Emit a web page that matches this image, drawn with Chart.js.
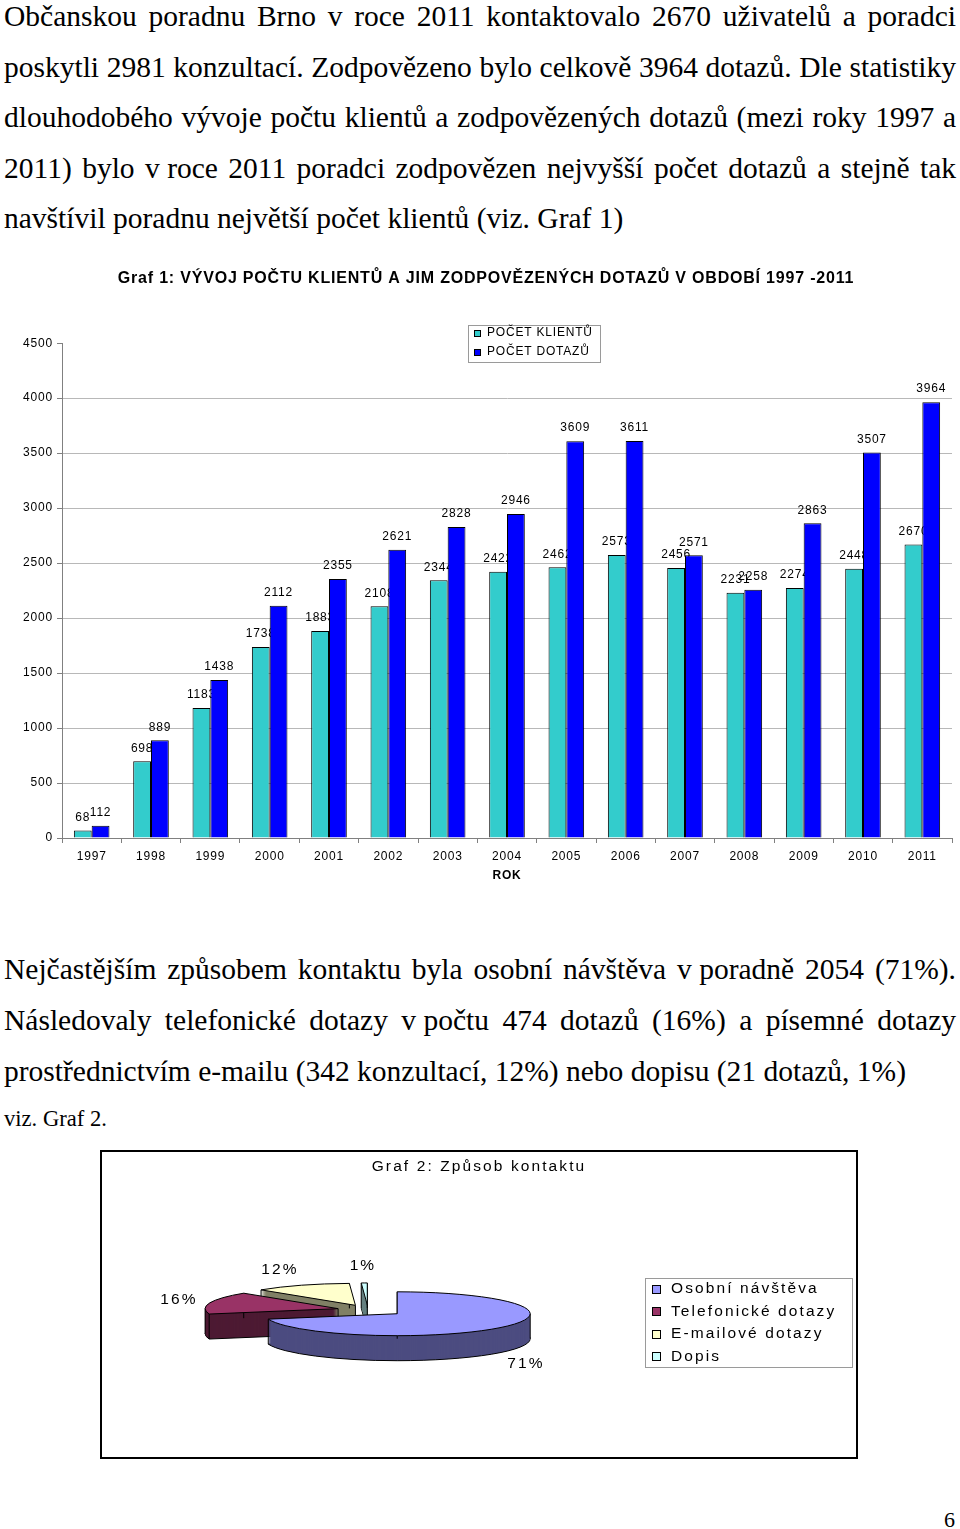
<!DOCTYPE html>
<html lang="cs">
<head>
<meta charset="utf-8">
<title>Občanská poradna Brno 2011</title>
<script src="https://cdn.jsdelivr.net/npm/chart.js@4.4.1/dist/chart.umd.min.js"></script>
<style>
    html, body { margin: 0; padding: 0; background: #fff; }
    #stranka { position: relative; width: 960px; height: 1529px; overflow: hidden; }
    .radek { position: absolute; left: 4px; white-space: nowrap; color: #000;
             font: 29.5px/1 'Liberation Serif', 'Times New Roman', serif; }
    .nz { word-spacing: 0; }
    #graf1 { position: absolute; left: 0; top: 255px; }
    #ramecek2 { position: absolute; left: 100px; top: 1150px; width: 758px; height: 309px;
                border: 2px solid #000; box-sizing: border-box; }
    #graf2 { display: block; }
</style>
</head>
<body>
<div id="stranka">
    <div class="radek j" style="top:2.3px">Občanskou poradnu Brno v roce 2011 kontaktovalo 2670 uživatelů a poradci</div>
    <div class="radek j" style="top:52.8px">poskytli 2981 konzultací. Zodpovězeno bylo celkově 3964 dotazů. Dle statistiky</div>
    <div class="radek j" style="top:103.3px">dlouhodobého vývoje počtu klientů a zodpovězených dotazů (mezi roky 1997 a</div>
    <div class="radek j" style="top:153.8px">2011) bylo <span class="nz">v&nbsp;roce</span> 2011 poradci zodpovězen nejvyšší počet dotazů a stejně tak</div>
    <div class="radek" style="top:204.3px">navštívil poradnu největší počet klientů (viz. Graf 1)</div>

    <canvas id="graf1" width="960" height="640" style="width:960px;height:640px"></canvas>

    <div class="radek j" style="top:955.3px">Nejčastějším způsobem kontaktu byla osobní návštěva <span class="nz">v&nbsp;poradně</span> 2054 (71%).</div>
    <div class="radek j" style="top:1006.3px">Následovaly telefonické dotazy <span class="nz">v&nbsp;počtu</span> 474 dotazů (16%) a písemné dotazy</div>
    <div class="radek" style="top:1056.8px">prostřednictvím e-mailu (342 konzultací, 12%) nebo dopisu (21 dotazů, 1%)</div>
    <div class="radek" style="top:1108.1px;font-size:22.6px">viz. Graf 2.</div>

    <div id="ramecek2">
        <canvas id="graf2" width="754" height="305" style="width:754px;height:305px"></canvas>
    </div>

    <div class="radek" style="top:1508.6px;left:944px;font-size:22px">6</div>
</div>

<script>
// Graf 1 – vývoj počtu klientů a dotazů
const roky = ['1997', '1998', '1999', '2000', '2001', '2002', '2003', '2004',
              '2005', '2006', '2007', '2008', '2009', '2010', '2011'];
const pocetKlientu = [68, 698, 1183, 1738, 1883, 2108, 2344, 2422, 2462, 2573, 2456, 2231, 2274, 2448, 2670];
const pocetDotazu = [112, 889, 1438, 2112, 2355, 2621, 2828, 2946, 3609, 3611, 2571, 2258, 2863, 3507, 3964];
const osaYMax = 4500;
const osaYKrok = 500;

// Graf 2 – způsob kontaktu
const zpusobKontaktu = ['Osobní návštěva', 'Telefonické dotazy', 'E-mailové dotazy', 'Dopis'];
const pocetKontaktu = [2054, 474, 342, 21];

const PISMO = "'Liberation Sans', Arial, sans-serif";

// zarovnání řádků do bloku
document.querySelectorAll('.radek.j').forEach(function (el) {
    const mezer = (el.textContent.match(/ /g) || []).length;
    const sirka = el.getBoundingClientRect().width;
    el.style.wordSpacing = ((952 - sirka) / mezer) + 'px';
});

// proložení písma (obrázek v originále je roztažený do šířky)
const prolozeni = {
    id: 'prolozeni',
    beforeLayout(chart, args, o) { chart.ctx.letterSpacing = o.px + 'px'; },
    beforeDraw(chart, args, o) { chart.ctx.letterSpacing = o.px + 'px'; }
};

// legenda v rámečku
const legendaRamecek = {
    id: 'legendaRamecek',
    afterDraw(chart, args, o) {
        const ctx = chart.ctx;
        const polozky = chart.legend.legendItems;
        ctx.save();
        ctx.fillStyle = '#fff';
        ctx.fillRect(o.x, o.y, o.w, o.h);
        ctx.strokeStyle = o.borderColor;
        ctx.lineWidth = 1;
        ctx.strokeRect(o.x + 0.5, o.y + 0.5, o.w, o.h);
        ctx.font = o.font;
        ctx.textAlign = 'left';
        ctx.textBaseline = 'middle';
        polozky.forEach(function (p, i) {
            const y = o.y + o.first + i * o.row;
            ctx.fillStyle = p.fillStyle;
            ctx.fillRect(o.markerX, Math.round(y - o.marker / 2), o.marker, o.marker);
            ctx.strokeStyle = '#000';
            ctx.strokeRect(o.markerX + 0.5, Math.round(y - o.marker / 2) + 0.5, o.marker - 1, o.marker - 1);
            ctx.fillStyle = '#000';
            ctx.fillText(p.text, o.textX, y);
        });
        ctx.restore();
    }
};

// hodnoty nad sloupci: klienti pod sloupci dotazů, dotazy navrch
function kresliPopisky(chart, i) {
    const ctx = chart.ctx;
    const ds = chart.data.datasets[i];
    ctx.save();
    ctx.font = '12px ' + PISMO;
    ctx.fillStyle = '#000';
    ctx.textAlign = 'center';
    ctx.textBaseline = 'middle';
    chart.getDatasetMeta(i).data.forEach(function (bar, j) {
        ctx.fillText(String(ds.data[j]), bar.x, bar.y - 13);
    });
    ctx.restore();
}
const popisky = {
    id: 'popisky',
    beforeDatasetsDraw(chart) { kresliPopisky(chart, 0); },
    afterDatasetsDraw(chart) { kresliPopisky(chart, 1); }
};

new Chart(document.getElementById('graf1'), {
    type: 'bar',
    data: {
        labels: roky,
        datasets: [{
            label: 'POČET KLIENTŮ',
            data: pocetKlientu,
            backgroundColor: '#33CCCC',
            borderColor: '#000',
            borderWidth: 1
        }, {
            label: 'POČET DOTAZŮ',
            data: pocetDotazu,
            backgroundColor: '#0000FF',
            borderColor: '#000',
            borderWidth: 1
        }]
    },
    options: {
        responsive: false,
        animation: false,
        layout: { padding: { left: 20, right: 8, top: 0, bottom: 0 } },
        datasets: { bar: { categoryPercentage: 0.6, barPercentage: 1 } },
        plugins: {
            legend: { display: false },
            tooltip: { enabled: false },
            title: {
                display: true,
                text: 'Graf 1: VÝVOJ POČTU KLIENTŮ A JIM ZODPOVĚZENÝCH DOTAZŮ V OBDOBÍ 1997 -2011',
                color: '#000',
                font: { family: PISMO, size: 16, weight: 'bold' },
                padding: { top: 14, bottom: 55 }
            },
            prolozeni: { px: 0.8 },
            legendaRamecek: {
                x: 468, y: 70, w: 132, h: 37,
                first: 8, row: 19, marker: 7, markerX: 474, textX: 487,
                borderColor: '#9a9a9a', font: '12px ' + PISMO
            }
        },
        scales: {
            x: {
                grid: { drawOnChartArea: false, tickLength: 5, color: '#808080' },
                border: { color: '#808080' },
                ticks: { color: '#000', font: { family: PISMO, size: 12 }, padding: 6, maxRotation: 0, autoSkip: false },
                title: {
                    display: true, text: 'ROK', color: '#000',
                    font: { family: PISMO, size: 12, weight: 'bold' },
                    padding: { top: 0, bottom: 12 }
                },
                afterFit: function (s) { s.height = 57; }
            },
            y: {
                min: 0,
                max: osaYMax,
                ticks: {
                    stepSize: osaYKrok,
                    color: '#000',
                    font: { family: PISMO, size: 12 },
                    padding: 4,
                    callback: v => String(v)
                },
                grid: {
                    color: c => (c.tick && c.tick.value === osaYMax) ? 'rgba(0,0,0,0)' : '#b8b8b8',
                    tickColor: '#808080',
                    tickLength: 5
                },
                border: { color: '#808080' },
                afterFit: function (s) { s.width = 42; }
            }
        }
    },
    plugins: [prolozeni, popisky, legendaRamecek]
});

// prostorový koláč: výseče se vykreslí zploštěné a s bočnicí
function stred(a) { return (a.startAngle + a.endAngle) / 2; }

function vysec(ctx, a, cy, k, d) {
    ctx.save();
    ctx.translate(0, cy + d);
    ctx.scale(1, k);
    ctx.translate(0, -cy);
    ctx.beginPath();
    ctx.moveTo(a.x, a.y);
    ctx.arc(a.x, a.y, a.outerRadius, a.startAngle, a.endAngle);
    ctx.closePath();
    ctx.restore();
}

const kolac3d = {
    id: 'kolac3d',
    afterDatasetsUpdate(chart, args, o) {
        chart.getDatasetMeta(0).data.forEach(function (a, i) {
            const m = stred(a);
            a.x += Math.cos(m) * o.explode[i];
            a.y += Math.sin(m) * o.explode[i];
        });
    },
    beforeDatasetsDraw(chart, args, o) {
        const ctx = chart.ctx;
        const ca = chart.chartArea;
        const cy = (ca.top + ca.bottom) / 2;
        const k = o.tilt;
        const arcs = chart.getDatasetMeta(0).data;
        const poradi = arcs.map((a, i) => i).sort((p, q) => Math.sin(stred(arcs[p])) - Math.sin(stred(arcs[q])));

        poradi.forEach(function (i) {
            const a = arcs[i];
            for (let d = o.depth; d >= 1; d--) {
                vysec(ctx, a, cy, k, d);
                ctx.fillStyle = o.sideColors[i];
                ctx.fill();
                if (d === o.depth) {
                    ctx.strokeStyle = '#000';
                    ctx.lineWidth = 1;
                    ctx.stroke();
                }
            }
            // svislé hrany
            const uhly = [a.startAngle, a.endAngle];
            [0, Math.PI, 2 * Math.PI].forEach(t => { if (t > a.startAngle && t < a.endAngle) uhly.push(t); });
            ctx.save();
            ctx.strokeStyle = '#000';
            ctx.lineWidth = 1;
            ctx.beginPath();
            uhly.forEach(function (t) {
                const x = a.x + Math.cos(t) * a.outerRadius;
                const y = cy + (a.y + Math.sin(t) * a.outerRadius - cy) * k;
                ctx.moveTo(x, y);
                ctx.lineTo(x, y + o.depth);
            });
            const vy = cy + (a.y - cy) * k;
            ctx.moveTo(a.x, vy);
            ctx.lineTo(a.x, vy + o.depth);
            ctx.stroke();
            ctx.restore();
        });

        ctx.save();
        ctx.translate(0, cy);
        ctx.scale(1, k);
        ctx.translate(0, -cy);
    },
    afterDatasetsDraw(chart, args, o) {
        const ctx = chart.ctx;
        ctx.restore();
        const ca = chart.chartArea;
        const cy = (ca.top + ca.bottom) / 2;
        const k = o.tilt;
        const arcs = chart.getDatasetMeta(0).data;
        const data = chart.data.datasets[0].data;
        const soucet = data.reduce((s, v) => s + v, 0);

        arcs.forEach(function (a) {
            vysec(ctx, a, cy, k, 0);
            ctx.strokeStyle = '#000';
            ctx.lineWidth = 1;
            ctx.stroke();
        });

        ctx.save();
        ctx.font = o.font;
        ctx.fillStyle = '#000';
        ctx.textAlign = 'center';
        ctx.textBaseline = 'middle';
        arcs.forEach(function (a, i) {
            const m = stred(a);
            const s = Math.sin(m);
            const r = a.outerRadius + o.labelGap + (s < 0 ? 28 * s * s : 0);
            const x = a.x + Math.cos(m) * r;
            const y = cy + (a.y + s * r - cy) * k + (s > 0 ? o.depth + 8 : 1 + 9 * s);
            ctx.fillText(Math.round(data[i] / soucet * 100) + '%', x, y);
        });
        ctx.restore();

        // nadpis grafu
        ctx.save();
        ctx.font = o.font;
        ctx.fillStyle = '#000';
        ctx.textAlign = 'center';
        ctx.textBaseline = 'middle';
        ctx.fillText(o.title, chart.width / 2, o.titleY);
        ctx.restore();
    }
};

new Chart(document.getElementById('graf2'), {
    type: 'pie',
    data: {
        labels: zpusobKontaktu,
        datasets: [{
            data: pocetKontaktu,
            backgroundColor: ['#9999FF', '#993366', '#FFFFCC', '#CCFFFF'],
            borderWidth: 0,
            radius: 133,
            clip: false
        }]
    },
    options: {
        responsive: false,
        animation: false,
        layout: { padding: { left: 0, right: 222, top: 40, bottom: 29 } },
        plugins: {
            legend: { display: false },
            tooltip: { enabled: false },
            title: { display: false },
            prolozeni: { px: 2.1 },
            kolac3d: {
                explode: [37, 31, 31, 31],
                tilt: 0.165,
                depth: 25,
                sideColors: ['#4C4C80', '#4D1A33', '#808066', '#668080'],
                labelGap: 30,
                font: '15.5px ' + PISMO,
                title: 'Graf 2: Způsob kontaktu',
                titleY: 15
            },
            legendaRamecek: {
                x: 543, y: 126, w: 207, h: 89,
                first: 11, row: 22.5, marker: 9, markerX: 550, textX: 569,
                borderColor: '#9a9a9a', font: '15.5px ' + PISMO
            }
        }
    },
    plugins: [prolozeni, kolac3d, legendaRamecek]
});
</script>
</body>
</html>
